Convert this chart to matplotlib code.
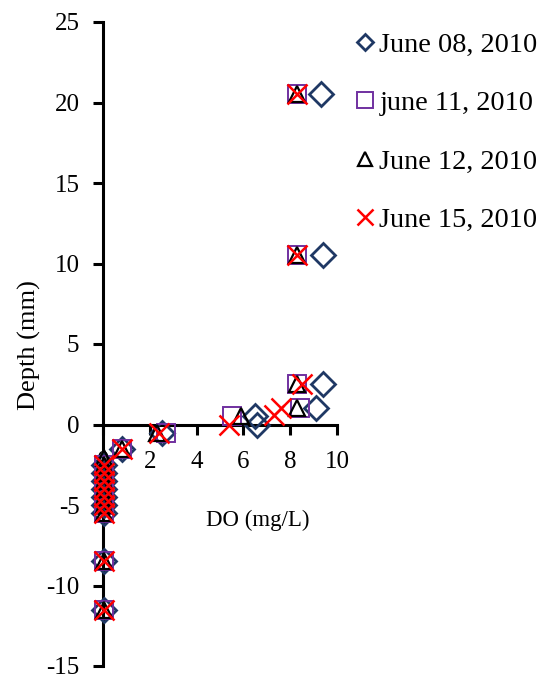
import matplotlib
matplotlib.use("Agg")
import matplotlib.pyplot as plt
from matplotlib.lines import Line2D

plt.rcParams['font.family'] = ['Liberation Serif', 'DejaVu Serif']
plt.rcParams['axes.unicode_minus'] = False

# Dissolved oxygen (mg/L) vs depth (mm) profiles
do_0608 = [9.3, 9.4, 9.4, 9.1, 6.5, 6.6, 2.5, 0.8, 0.05, 0.05, 0.05, 0.05, 0.05, 0.05, 0.05, 0.05, 0.05]
depth_0608 = [20.5, 10.5, 2.5, 1.0, 0.5, 0.0, -0.5, -1.5, -2.5, -3.0, -3.5, -4.0, -4.5, -5.0, -5.5, -8.5, -11.5]

do_0611 = [8.3, 8.3, 8.3, 8.4, 5.5, 2.7, 0.8, 0.05, 0.05, 0.05, 0.05, 0.05, 0.05, 0.05, 0.05, 0.05]
depth_0611 = [20.5, 10.5, 2.5, 1.0, 0.5, -0.5, -1.5, -2.5, -3.0, -3.5, -4.0, -4.5, -5.0, -5.5, -8.5, -11.5]

do_0612 = [8.3, 8.3, 8.3, 8.3, 5.9, 2.3, 0.8, 0.05, 0.05, 0.05, 0.05, 0.05, 0.05, 0.05, 0.05, 0.05, 0.05]
depth_0612 = [20.5, 10.5, 2.5, 1.0, 0.5, -0.5, -1.5, -2.1, -2.5, -3.0, -3.5, -4.0, -4.5, -5.0, -5.5, -8.5, -11.5]

do_0615 = [8.3, 8.3, 8.5, 7.6, 7.3, 5.4, 2.4, 0.8, 0.05, 0.05, 0.05, 0.05, 0.05, 0.05, 0.05, 0.05, 0.05]
depth_0615 = [20.5, 10.5, 2.5, 1.0, 0.6, 0.0, -0.5, -1.5, -2.5, -3.0, -3.5, -4.0, -4.5, -5.0, -5.5, -8.5, -11.5]

labels = ["June 08, 2010", "june 11, 2010", "June 12, 2010", "June 15, 2010"]
x_ticks = [0, 2, 4, 6, 8, 10]
y_ticks = [-15, -10, -5, 0, 5, 10, 15, 20, 25]

navy = "#1F3864"
purple = "#7030A0"
red = "#FF0000"

fig = plt.figure(figsize=(5.39, 6.75), dpi=100)
ax = fig.add_axes([103 / 539, 1 - 666 / 675, 234 / 539, 644 / 675])
ax.set_facecolor("none")

ax.plot(do_0608, depth_0608, linestyle="none", marker="D", ms=12, mfc="none",
        mec=navy, mew=2.0, label=labels[0], clip_on=False, zorder=3)
ax.plot(do_0611, depth_0611, linestyle="none", marker="s", ms=13, mfc="none",
        mec=purple, mew=1.4, label=labels[1], clip_on=False, zorder=3)
ax.plot(do_0612, depth_0612, linestyle="none", marker="^", ms=12, mfc="none",
        mec="black", mew=1.6, label=labels[2], clip_on=False, zorder=3)
ax.plot(do_0615, depth_0615, linestyle="none", marker="x", ms=15, mfc="none",
        mec=red, mew=1.8, label=labels[3], clip_on=False, zorder=3)

ax.set_xlim(0, 10)
ax.set_ylim(-15, 25)
ax.set_xticks(x_ticks)
ax.set_yticks(y_ticks)

ax.spines['top'].set_visible(False)
ax.spines['right'].set_visible(False)
ax.spines['bottom'].set_position(('data', 0))
for s in ('left', 'bottom'):
    ax.spines[s].set_linewidth(2.2)
ax.tick_params(axis='both', direction='out', length=7, width=2.2,
               labelsize=18, pad=10)
ax.tick_params(axis='x', pad=12)

ax.set_ylabel("Depth (mm)", fontsize=19)
ax.yaxis.set_label_coords((29 - 103) / 234, (666 - 345) / 644)
ax.yaxis.label.set_ha("center")
ax.yaxis.label.set_va("center")
ax.set_xlabel("DO (mg/L)", fontsize=16.5)
ax.xaxis.set_label_coords((258 - 103) / 234, (666 - 520) / 644)
ax.xaxis.label.set_va("center")

handles = [
    Line2D([], [], linestyle="none", marker="D", ms=8, mfc="none", mec=navy, mew=2.0),
    Line2D([], [], linestyle="none", marker="s", ms=11, mfc="none", mec=purple, mew=1.4),
    Line2D([], [], linestyle="none", marker="^", ms=10, mfc="none", mec="black", mew=1.6),
    Line2D([], [], linestyle="none", marker="x", ms=12, mfc="none", mec=red, mew=1.8),
]
fig.legend(handles, labels, loc="upper left", bbox_to_anchor=(354 / 539, 1 - 32 / 675),
           frameon=False, fontsize=20.3, handlelength=0.8, handletextpad=0.1,
           labelspacing=1.16, borderaxespad=0, borderpad=0)

fig.savefig("out.png", dpi=100)
